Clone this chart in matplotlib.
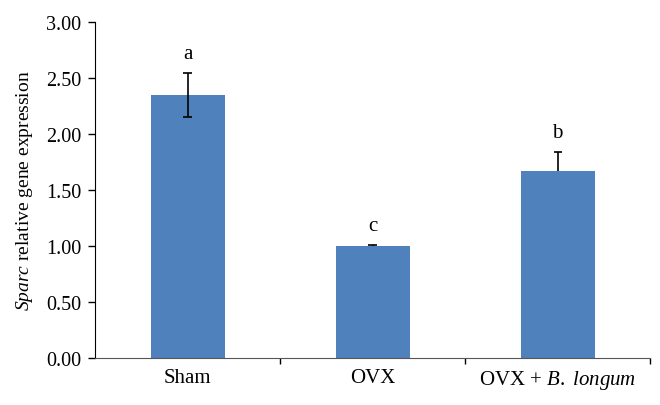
import matplotlib.pyplot as plt
import numpy as np

groups = ['Sham', 'OVX', 'OVX + $\\it{B.\\ longum}$']
means = [2.35, 1.00, 1.67]
errs = [0.20, 0.005, 0.17]
letters = ['a', 'c', 'b']

plt.rcParams['font.family'] = ['Liberation Serif', 'DejaVu Serif']
plt.rcParams['mathtext.fontset'] = 'custom'
plt.rcParams['mathtext.it'] = 'Liberation Serif:italic'
plt.rcParams['mathtext.rm'] = 'Liberation Serif'

fig = plt.figure(figsize=(6.6, 4.06), dpi=100)
ax = fig.add_axes([0.144, 0.116, 0.841, 0.827])

x = np.arange(len(groups))
ax.bar(x, means, width=0.4, color='#4f81bd', zorder=2)

# error bars: upper whiskers for all, lower whisker visible only on Sham
cw = 0.022
tops = np.array(means) + np.array(errs)
ax.vlines(x, means, tops, color='black', lw=1.2, zorder=3)
ax.hlines(tops, x - cw, x + cw, color='black', lw=1.2, zorder=3)
ax.vlines(x[0], means[0] - errs[0], means[0], color='black', lw=1.2, zorder=3)
ax.hlines(means[0] - errs[0], x[0] - cw, x[0] + cw, color='black', lw=1.2, zorder=3)

for xi, t, l in zip(x, tops, letters):
    ax.annotate(l, (xi, t), xytext=(0, 14), textcoords='offset points',
                ha='center', va='center', fontsize=15)

ax.set_xlim(-0.5, 2.5)
ax.set_ylim(0, 3)
ax.set_yticks(np.arange(0, 3.01, 0.5))
ax.set_yticklabels(['%.2f' % v for v in np.arange(0, 3.01, 0.5)], fontsize=14.5)
ax.set_xticks(x)
ax.set_xticklabels(groups, fontsize=15)
ax.tick_params(axis='x', length=0, pad=7)
ax.set_xticks([0.5, 1.5, 2.5], minor=True)
ax.tick_params(axis='x', which='minor', length=4, direction='out', width=1)
ax.tick_params(axis='y', length=5, width=1, direction='out', pad=5)
ax.set_ylabel('$\\it{Sparc}$ relative gene expression', fontsize=14, labelpad=8)

ax.spines['top'].set_visible(False)
ax.spines['right'].set_visible(False)
ax.spines['bottom'].set_color('#555555')

fig.savefig('out.png', dpi=100)
